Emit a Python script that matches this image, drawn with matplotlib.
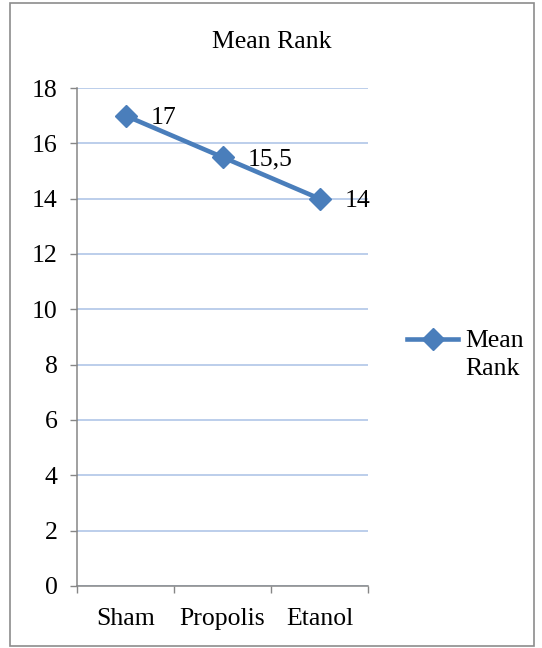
import matplotlib
matplotlib.use("Agg")
import matplotlib.pyplot as plt
from matplotlib.patches import Rectangle

categories = ["Sham", "Propolis", "Etanol"]
mean_rank = [17, 15.5, 14]
value_labels = ["17", "15,5", "14"]
y_ticks = [0, 2, 4, 6, 8, 10, 12, 14, 16, 18]
series_name = "Mean Rank"
legend_lines = ["Mean", "Rank"]

plt.rcParams["font.family"] = ["Liberation Serif", "DejaVu Serif"]
FS = 18.5

W, H = 542, 648
fig = plt.figure(figsize=(W / 100, H / 100), dpi=100)

# outer chart frame
fig.patches.append(Rectangle((10 / W, 1 - 646 / H), 524 / W, 643 / H,
                             transform=fig.transFigure, fill=False,
                             edgecolor="#8c8c8c", linewidth=1.2))

ax = fig.add_axes([77 / W, 1 - 586 / H, 291 / W, 498 / H])
color = "#4A7EBB"

xpos = [i + 0.5 for i in range(len(categories))]
ax.plot(xpos, mean_rank, color=color, linewidth=3.3, marker="D",
        markersize=11, markeredgecolor=color, label=series_name, zorder=3)

for x, v, t in zip(xpos, mean_rank, value_labels):
    ax.annotate(t, (x, v), xytext=(18, -1.5), textcoords="offset points",
                ha="left", va="center", fontsize=FS, color="black")

ax.set_xlim(0, len(categories))
ax.set_ylim(0, 18)
ax.set_yticks(y_ticks)
ax.set_xticks(range(len(categories) + 1))
ax.set_xticklabels([])
ax.set_xticks(xpos, minor=True)
ax.set_xticklabels(categories, minor=True)
ax.tick_params(axis="x", which="minor", length=0, pad=16, labelsize=FS)
ax.tick_params(axis="x", which="major", length=5, color="#868686", width=1)
ax.tick_params(axis="y", length=5, color="#868686", width=1, pad=9, labelsize=FS)

ax.grid(axis="y", color="#a9c1e6", linewidth=1.1)
ax.set_axisbelow(True)
for s in ["top", "right"]:
    ax.spines[s].set_visible(False)
for s in ["left", "bottom"]:
    ax.spines[s].set_color("#868686")
    ax.spines[s].set_linewidth(1.1)

fig.text(272 / W, 1 - 42 / H, series_name, ha="center", va="center", fontsize=FS)

# legend: handle sits beside the first word, the name wraps onto a second line
leg = fig.legend(handles=ax.get_lines(), labels=[legend_lines[0]], loc="center left",
                 bbox_to_anchor=(407 / W, 1 - 341 / H), frameon=False,
                 fontsize=FS, handlelength=2.0, handletextpad=0.27,
                 borderaxespad=0, borderpad=0)
fig.canvas.draw()
bb = leg.get_texts()[0].get_window_extent()
fig.text(bb.x0 / W, (bb.y0 - 28) / H, legend_lines[1], ha="left", va="bottom",
         fontsize=FS)

fig.savefig("out.png", dpi=100)
